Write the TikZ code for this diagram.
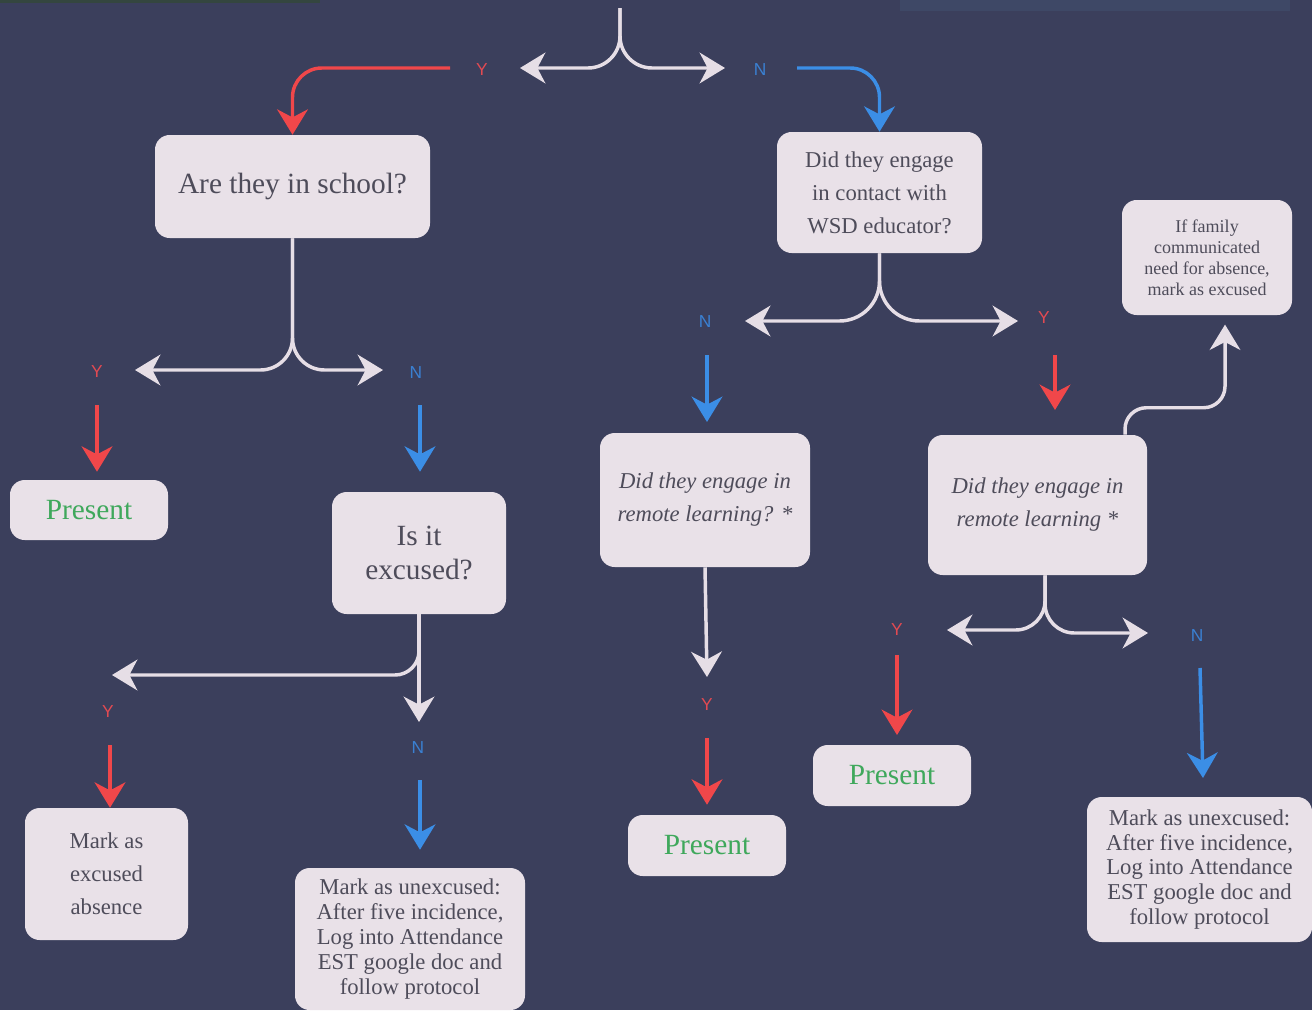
\documentclass[tikz,border=0pt]{standalone}
\usepackage{fontspec}
\setmainfont{Liberation Serif}
\newfontfamily\lblfont{Liberation Sans}
\usetikzlibrary{arrows.meta,calc}
\definecolor{bg}{HTML}{3B3F5C}
\definecolor{boxc}{HTML}{E9E1E8}
\definecolor{txt}{HTML}{4E4C5A}
\definecolor{wline}{HTML}{E6DEE6}
\definecolor{redc}{HTML}{F0474A}
\definecolor{bluec}{HTML}{3B8EE6}
\definecolor{redl}{HTML}{E24A52}
\definecolor{bluel}{HTML}{3A80D2}
\definecolor{greenc}{HTML}{3FA85C}
\definecolor{stripg}{HTML}{34463F}
\definecolor{stripb}{HTML}{3E4866}
\tikzset{
  box/.style={fill=boxc,draw=none,rounded corners=11pt,text=txt,align=center,inner sep=0pt},
  conn/.style={line width=2.6pt,-{Stealth[length=19pt,width=23pt,inset=6pt]}},
  wl/.style={conn,draw=wline},
  rl/.style={conn,draw=redc},
  bl/.style={conn,draw=bluec},
  ylab/.style={text=redl,font=\lblfont\fontsize{13}{15}\selectfont,inner sep=0pt},
  nlab/.style={text=bluel,font=\lblfont\fontsize{13}{15}\selectfont,inner sep=0pt},
  big/.style={font=\fontsize{22}{25}\selectfont},
  mid/.style={font=\fontsize{17}{24.75}\selectfont},
  dense/.style={font=\fontsize{17}{18.6}\selectfont},
  small/.style={font=\fontsize{13.5}{15.75}\selectfont},
}
\begin{document}
\begin{tikzpicture}[x=0.75pt,y=-0.75pt]
\fill[bg] (0,0) rectangle (1312,1010);
\useasboundingbox (0,0) rectangle (1312,1010);
\fill[stripg] (0,0) rectangle (320,3);
\fill[stripb] (900,0) rectangle (1290,11);

% boxes
\node[box,big,minimum width=206.25pt,minimum height=77.25pt] (school) at (292.5,186.5) {Are they in school?};
\node[box,mid,minimum width=153.75pt,minimum height=90.75pt] (wsd) at (879.5,192.5) {Did they engage\\in contact with\\WSD educator?};
\node[box,small,minimum width=127.5pt,minimum height=86.25pt] (family) at (1207,257.5) {If family\\communicated\\need for absence,\\mark as excused};
\node[box,big,minimum width=118.5pt,minimum height=45pt,text=greenc] (present1) at (89,510) {Present};
\node[box,big,minimum width=130.5pt,minimum height=91.5pt] (excused) at (419,553) {Is it\\excused?};
\node[box,mid,minimum width=157.5pt,minimum height=100.5pt] (rl1) at (705,500) {\itshape Did they engage in\\\itshape remote learning? *};
\node[box,mid,minimum width=164.25pt,minimum height=105pt] (rl2) at (1037.5,505) {\itshape Did they engage in\\\itshape remote learning *};
\node[box,mid,minimum width=122.25pt,minimum height=99pt] (markex) at (106.5,874) {Mark as\\excused\\absence};
\node[box,dense,minimum width=172.5pt,minimum height=106.5pt] (unex1) at (410,939) {Mark as unexcused:\\After five incidence,\\Log into Attendance\\EST google doc and\\follow protocol};
\node[box,big,minimum width=118.5pt,minimum height=45.75pt,text=greenc] (present2) at (707,845.5) {Present};
\node[box,big,minimum width=118.5pt,minimum height=45.75pt,text=greenc] (present3) at (892,775.5) {Present};
\node[box,dense,minimum width=168.75pt,minimum height=108.75pt] (unex2) at (1199.5,869.5) {Mark as unexcused:\\After five incidence,\\Log into Attendance\\EST google doc and\\follow protocol};

% labels
\node[ylab] (y1) at (482,70) {Y};
\node[nlab] (n1) at (760,70) {N};
\node[ylab] (y2) at (97,372) {Y};
\node[nlab] (n2) at (416,373) {N};
\node[nlab] (n3) at (705,322) {N};
\node[ylab] (y3) at (1044,318) {Y};
\node[ylab] (y4) at (108,712) {Y};
\node[nlab] (n4) at (418,748) {N};
\node[ylab] (y5) at (707,705) {Y};
\node[ylab] (y6) at (897,630) {Y};
\node[nlab] (n6) at (1197,636) {N};

% coordinates
\coordinate (t0) at (620,8);
\coordinate (tL) at (520,68);
\coordinate (tR) at (725,68);
\coordinate (r1) at (450,68);
\coordinate (b1) at (797,68);
\coordinate (sL) at (135,370);
\coordinate (sR) at (383,370);
\coordinate (r2) at (97,405);
\coordinate (b2) at (420,405);
\coordinate (eL) at (112,675);
\coordinate (eD) at (419,722);
\coordinate (r4) at (110,745);
\coordinate (b4) at (420,780);
\coordinate (wL) at (745,321);
\coordinate (wR) at (1018,321);
\coordinate (b3) at (707,355);
\coordinate (b3e) at (707,422);
\coordinate (r3) at (1055,355);
\coordinate (r3e) at (1055,410);
\coordinate (fs) at (1125,0);
\coordinate (fx) at (1225,0);
\coordinate (d1) at (707,677);
\coordinate (r5) at (707,738);
\coordinate (g0) at (1045,0);
\coordinate (gL) at (947,630);
\coordinate (gR) at (1148,633);
\coordinate (r6) at (897,655);
\coordinate (r6e) at (897,735);
\coordinate (b6) at (1200,668);
\coordinate (b6e) at (1203,778);

% top fork
\draw[wl,rounded corners=24pt] (t0) |- (tL);
\draw[wl,rounded corners=24pt] (t0) |- (tR);
\draw[rl,rounded corners=22pt] (r1) -| (school.north);
\draw[bl,rounded corners=22pt] (b1) -| (wsd.north);

% school fork
\draw[wl,rounded corners=24pt] (school.south) |- (sL);
\draw[wl,rounded corners=24pt] (school.south) |- (sR);
\draw[rl] (r2) -- ([yshift=6pt]r2 |- present1.north);
\draw[bl] (b2) -- ([yshift=15pt]b2 |- excused.north);

% excused fork
\draw[wl,rounded corners=18pt] (excused.south) |- (eL);
\draw[wl] (excused.south) -- (eD);
\draw[rl] (r4) -- (r4 |- markex.north);
\draw[bl] (b4) -- ([yshift=13.5pt]b4 |- unex1.north);

% wsd fork
\draw[wl,rounded corners=30pt] (wsd.south) |- (wL);
\draw[wl,rounded corners=30pt] (wsd.south) |- (wR);
\draw[bl] (b3) -- (b3e);
\draw[rl] (r3) -- (r3e);

% to family box
\draw[wl,rounded corners=16pt] (fs |- rl2.north) -- ++(0,-27) -| ([yshift=-7pt]fx |- family.south);

% rl1 down
\draw[wl] (rl1.south) -- (d1);
\draw[rl] (r5) -- ([yshift=7.5pt]r5 |- present2.north);

% rl2 fork
\draw[wl,rounded corners=22pt] (g0 |- rl2.south) |- (gL);
\draw[wl,rounded corners=22pt] (g0 |- rl2.south) |- (gR);
\draw[rl] (r6) -- (r6e);
\draw[bl] (b6) -- (b6e);
\end{tikzpicture}
\end{document}
